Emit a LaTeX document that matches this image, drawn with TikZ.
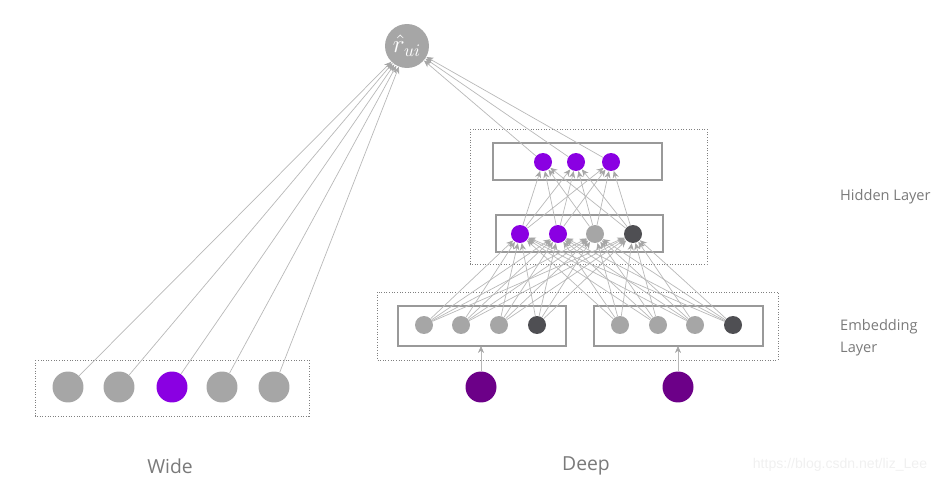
\documentclass[tikz,border=0pt]{standalone}
\usepackage{fontspec}
\setmainfont{Open Sans}
\newfontfamily\markfont{Liberation Sans}
\usetikzlibrary{arrows.meta}
\definecolor{unitgray}{HTML}{A6A6A6}
\definecolor{unitdark}{HTML}{4F4F53}
\definecolor{unitpurple}{HTML}{8A00E2}
\definecolor{inpurple}{HTML}{6C0088}
\definecolor{linkgray}{HTML}{B8B8B8}
\definecolor{textgray}{HTML}{7A7A7A}

\tikzset{
  unit/.style={circle,inner sep=0pt,minimum size=0.36cm,fill=unitgray},
  bigunit/.style={circle,inner sep=0pt,minimum size=0.62cm,fill=unitgray},
  link/.style={draw=linkgray,line width=0.4pt,-{Stealth[length=4pt,width=3.5pt,color=unitgray]}},
  layerbox/.style={draw=gray!80,line width=0.6pt},
  groupbox/.style={draw=gray,densely dotted,line width=0.5pt},
  lbl/.style={text=textgray,font=\fontsize{8.3}{12.5}\selectfont,anchor=west,align=left}
}

\begin{document}
\begin{tikzpicture}[x=0.02cm,y=-0.02cm]
  \useasboundingbox (0,0) rectangle (947,483);

  % output
  \node[circle,inner sep=0pt,minimum size=0.88cm,fill=unitgray,text=white,font=\fontsize{14}{16}\selectfont] (r) at (407,46) {$\hat{r}_{ui}$};

  % wide part
  \draw[groupbox] (35,360) rectangle (309,416);
  \node[bigunit] (w1) at (68,387) {};
  \node[bigunit] (w2) at (119,387) {};
  \node[bigunit,fill=unitpurple] (w3) at (172,387) {};
  \node[bigunit] (w4) at (222,387) {};
  \node[bigunit] (w5) at (274,387) {};
  \foreach \i in {1,...,5}
    \draw[link] (w\i) -- (r);

  % deep part: embedding layer
  \draw[groupbox] (377,292) rectangle (778,360);
  \draw[layerbox] (398,306) rectangle (566,346);
  \draw[layerbox] (594,306) rectangle (763,346);
  \node[unit] (e1) at (424,325) {};
  \node[unit] (e2) at (461,325) {};
  \node[unit] (e3) at (499,325) {};
  \node[unit,fill=unitdark] (e4) at (537,325) {};
  \node[unit] (e5) at (620,325) {};
  \node[unit] (e6) at (658,325) {};
  \node[unit] (e7) at (695,325) {};
  \node[unit,fill=unitdark] (e8) at (733,325) {};
  \coordinate (b1) at (481,346);
  \coordinate (b2) at (678,346);
  \node[bigunit,fill=inpurple] (i1) at (481,387) {};
  \node[bigunit,fill=inpurple] (i2) at (678,387) {};
  \draw[link] (i1) -- (b1);
  \draw[link] (i2) -- (b2);

  % deep part: hidden layers
  \draw[groupbox] (470,129) rectangle (707,264);
  \draw[layerbox] (493,143) rectangle (662,180);
  \draw[layerbox] (496,215) rectangle (663,252);
  \node[unit,fill=unitpurple] (h1) at (520,234) {};
  \node[unit,fill=unitpurple] (h2) at (558,234) {};
  \node[unit] (h3) at (595,234) {};
  \node[unit,fill=unitdark] (h4) at (633,234) {};
  \node[unit,fill=unitpurple] (o1) at (543,162) {};
  \node[unit,fill=unitpurple] (o2) at (576,162) {};
  \node[unit,fill=unitpurple] (o3) at (611,162) {};

  \foreach \i in {1,...,8}
    \foreach \j in {1,...,4}
      \draw[link] (e\i) -- (h\j);
  \foreach \i in {1,...,4}
    \foreach \j in {1,...,3}
      \draw[link] (h\i) -- (o\j);
  \foreach \i in {1,...,3}
    \draw[link] (o\i) -- (r);

  % labels
  \node[lbl] (hid) at (834,197) {Hidden Layer};
  \node[lbl,anchor=north west] (emb) at (834,313) {Embedding\\Layer};
  \node[text=textgray,font=\fontsize{11}{14}\selectfont] (wide) at (170,466) {Wide};
  \node[text=textgray,font=\fontsize{11}{14}\selectfont] (deep) at (586,466) {Deep};
  \node[text=gray!12,font=\markfont\fontsize{8}{10}\selectfont] (mark) at (840,465) {https://blog.csdn.net/liz\_Lee};
\end{tikzpicture}
\end{document}
